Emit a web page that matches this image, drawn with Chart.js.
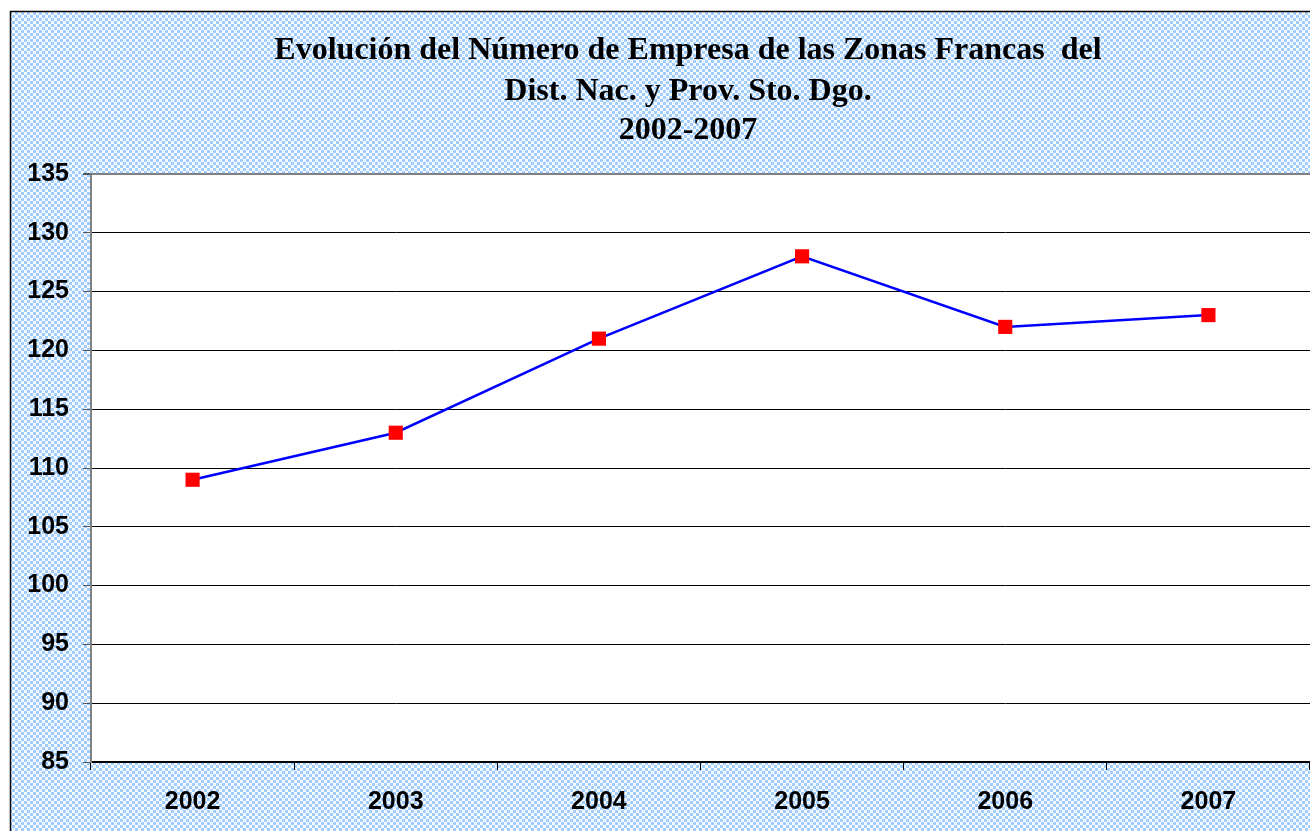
<!DOCTYPE html>
<html><head><meta charset="utf-8">
<script src="https://cdn.jsdelivr.net/npm/chart.js@4"></script>
<style>
html,body{margin:0;padding:0;background:#fff;}
#wrap{width:1310px;height:831px;overflow:hidden;position:relative;}
canvas{display:block;}
</style></head>
<body>
<div id="wrap"><canvas id="c" width="1320" height="831"></canvas></div>
<script>
const titleLines = ["Evolución del Número de Empresa de las Zonas Francas  del", "Dist. Nac. y Prov. Sto. Dgo.", "2002-2007"];
const years = ["2002", "2003", "2004", "2005", "2006", "2007"];
const empresas = [109, 113, 121, 128, 122, 123];
const yMin = 85, yMax = 135, yStep = 5;

function makePattern(ctx){
  const p = document.createElement('canvas');
  p.width = 6; p.height = 6;
  const g = p.getContext('2d');
  g.fillStyle = '#9fcdff'; g.fillRect(0,0,6,6);
  g.fillStyle = '#ffffff';
  g.fillRect(0,0,3,3); g.fillRect(3,3,3,3);
  g.fillStyle = '#cfe7ff';
  g.fillRect(1,1,1,1); g.fillRect(4,4,1,1);
  return ctx.createPattern(p,'repeat');
}

const bgPlugin = {
  id:'bg',
  beforeDraw(chart){
    const ctx = chart.ctx, a = chart.chartArea;
    ctx.save();
    ctx.fillStyle = '#fff';
    ctx.fillRect(0,0,chart.width,chart.height);
    ctx.fillStyle = makePattern(ctx);
    ctx.fillRect(10,11,chart.width,chart.height);
    ctx.fillStyle = '#fff';
    ctx.fillRect(a.left,a.top,a.right-a.left,a.bottom-a.top);
    ctx.strokeStyle = '#000'; ctx.lineWidth = 1.5;
    ctx.strokeRect(10.5,11.5,chart.width+20,chart.height+20);
    ctx.fillStyle = '#000';
    ctx.font = 'bold 32px "Liberation Serif", "Times New Roman", serif';
    ctx.textAlign = 'center'; ctx.textBaseline = 'middle';
    const ys = [51, 92, 131];
    titleLines.forEach((t,i)=>ctx.fillText(t, 688, ys[i]));
    ctx.restore();
  }
};

new Chart(document.getElementById('c'), {
  type:'line',
  data:{
    labels: years,
    datasets:[{
      data: empresas,
      borderColor:'#0000ff',
      borderWidth:2.5,
      backgroundColor:'#ff0000',
      pointStyle:'rect',
      pointRadius:10,
      pointHoverRadius:10,
      pointBorderWidth:0,
      pointBackgroundColor:'#ff0000',
      tension:0
    }]
  },
  options:{
    responsive:false,
    animation:false,
    events:[],
    layout:{padding:{top:174,left:0,right:9,bottom:0}},
    plugins:{legend:{display:false},title:{display:false},tooltip:{enabled:false}},
    scales:{
      x:{
        offset:true,
        grid:{offset:true,drawOnChartArea:false,drawTicks:true,tickLength:8,color:'#000',lineWidth:1},
        border:{color:'#000',width:2},
        ticks:{color:'#000',padding:17,font:{family:'"Liberation Sans", Arial, sans-serif',size:25,weight:'bold'}},
        afterFit(s){s.height = 69;}
      },
      y:{
        min:yMin,max:yMax,
        grid:{color:(c)=> c.tick && c.tick.value===yMax ? '#808080' : '#000', lineWidth:(c)=> c.tick && c.tick.value===yMax ? 2 : 1, tickLength:8, tickColor:'#555'},
        border:{color:'#808080',width:2},
        ticks:{stepSize:yStep,color:'#000',padding:14,font:{family:'"Liberation Sans", Arial, sans-serif',size:25,weight:'bold'}},
        afterFit(s){s.width = 91;}
      }
    }
  },
  plugins:[bgPlugin]
});
</script>
</body></html>
